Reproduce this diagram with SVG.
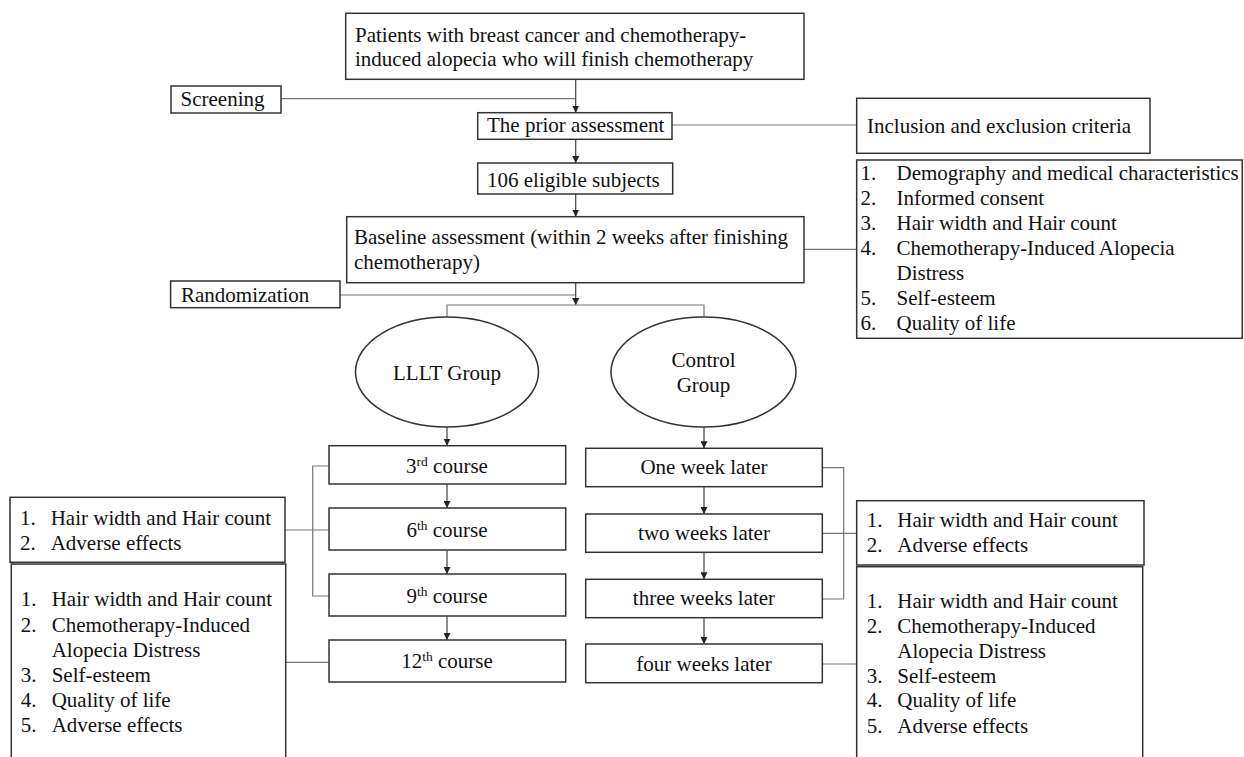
<svg xmlns="http://www.w3.org/2000/svg" width="1244" height="757" viewBox="0 0 1244 757">
<defs>
<marker id="ah" viewBox="0 0 8 8" refX="8" refY="4" markerWidth="7" markerHeight="7" markerUnits="userSpaceOnUse" orient="auto"><path d="M0,0 L8,4 L0,8 z" fill="#222"/></marker>
</defs>
<style>
.box{fill:#fff;stroke:#333;stroke-width:1.5}
.ln{fill:none;stroke:#777;stroke-width:1.2}
.ar{fill:none;stroke:#444;stroke-width:1.2;marker-end:url(#ah)}
text{font-family:"Liberation Serif","Times New Roman",serif;font-size:21px;fill:#111}
.c{text-anchor:middle}
.sup{font-size:13.5px}
</style>
<rect width="1244" height="757" fill="#fff"/>
<g id="connectors">
<path class="ln" d="M281 98.7 H575.7"/>
<path class="ar" d="M575.7 79.3 V112.7"/>
<path class="ar" d="M575.7 139.3 V163"/>
<path class="ar" d="M575.7 194 V216.7"/>
<path class="ln" d="M672 125 H856.7"/>
<path class="ln" d="M804 249.3 H856.7"/>
<path class="ln" d="M340 295 H575.7"/>
<path class="ar" d="M575.7 282.7 V305"/>
<path class="ln" d="M447 317 V305 H704 V317"/>
<path class="ar" d="M447 427 V445.7"/>
<path class="ar" d="M447 484 V508"/>
<path class="ar" d="M447 550 V574"/>
<path class="ar" d="M447 616 V640"/>
<path class="ar" d="M704 426.7 V448.3"/>
<path class="ar" d="M704 486.7 V514"/>
<path class="ar" d="M704 552.3 V579.3"/>
<path class="ar" d="M704 617.7 V644"/>
<path class="ln" d="M329 466 H312.7 V596 H329"/>
<path class="ln" d="M285 530 H329"/>
<path class="ln" d="M285.7 662.3 H329"/>
<path class="ln" d="M822.3 467.7 H843.7 V599 H822.3"/>
<path class="ln" d="M822.3 533.3 H856.7"/>
<path class="ln" d="M822.3 664 H856.7"/>
</g>
<g id="patients">
<rect class="box" x="345.7" y="13.3" width="458.3" height="66"/>
<text x="355" y="41.7">Patients with breast cancer and chemotherapy-</text>
<text x="355" y="65.5">induced alopecia who will finish chemotherapy</text>
</g>
<g id="screening">
<rect class="box" x="171" y="86" width="110" height="27"/>
<text x="180.5" y="106">Screening</text>
</g>
<g id="prior">
<rect class="box" x="477.7" y="112.7" width="194.3" height="26.6"/>
<text x="487" y="132">The prior assessment</text>
</g>
<g id="inclusion">
<rect class="box" x="856.7" y="98.3" width="293.3" height="55"/>
<text x="867" y="133">Inclusion and exclusion criteria</text>
</g>
<g id="eligible">
<rect class="box" x="477.7" y="163" width="195" height="31"/>
<text x="487" y="186.5">106 eligible subjects</text>
</g>
<g id="baseline">
<rect class="box" x="346.7" y="216.7" width="457.3" height="66"/>
<text x="354" y="244">Baseline assessment (within 2 weeks after finishing</text>
<text x="354" y="268.5">chemotherapy)</text>
</g>
<g id="baseline-measures">
<rect class="box" x="856.7" y="160" width="385.5" height="178.3"/>
<text x="860.5" y="180">1.</text><text x="896.5" y="180">Demography and medical characteristics</text>
<text x="860.5" y="205">2.</text><text x="896.5" y="205">Informed consent</text>
<text x="860.5" y="230">3.</text><text x="896.5" y="230">Hair width and Hair count</text>
<text x="860.5" y="255">4.</text><text x="896.5" y="255">Chemotherapy-Induced Alopecia</text>
<text x="896.5" y="280">Distress</text>
<text x="860.5" y="305">5.</text><text x="896.5" y="305">Self-esteem</text>
<text x="860.5" y="329.5">6.</text><text x="896.5" y="329.5">Quality of life</text>
</g>
<g id="randomization">
<rect class="box" x="170.6" y="281" width="169.4" height="26.7"/>
<text x="181" y="301.5">Randomization</text>
</g>
<g id="lllt">
<ellipse class="box" cx="447" cy="372" rx="91.5" ry="55"/>
<text class="c" x="447" y="379.5">LLLT Group</text>
</g>
<g id="control">
<ellipse class="box" cx="703.5" cy="372" rx="92.5" ry="55"/>
<text class="c" x="703.5" y="366.7">Control</text>
<text class="c" x="703.5" y="391.7">Group</text>
</g>
<g id="course3">
<rect class="box" x="329" y="445.7" width="236.7" height="38.3"/>
<text class="c" x="447" y="473">3<tspan class="sup" baseline-shift="super">rd</tspan> course</text>
</g>
<g id="course6">
<rect class="box" x="329" y="508" width="236.7" height="42"/>
<text class="c" x="447" y="536.7">6<tspan class="sup" baseline-shift="super">th</tspan> course</text>
</g>
<g id="course9">
<rect class="box" x="329" y="574" width="236.7" height="42"/>
<text class="c" x="447" y="602.7">9<tspan class="sup" baseline-shift="super">th</tspan> course</text>
</g>
<g id="course12">
<rect class="box" x="329" y="640" width="236.7" height="42"/>
<text class="c" x="447" y="668.3">12<tspan class="sup" baseline-shift="super">th</tspan> course</text>
</g>
<g id="week1">
<rect class="box" x="585.7" y="448.3" width="236.6" height="38.4"/>
<text class="c" x="704" y="474.3">One week later</text>
</g>
<g id="week2">
<rect class="box" x="585.7" y="514" width="236.6" height="38.3"/>
<text class="c" x="704" y="540">two weeks later</text>
</g>
<g id="week3">
<rect class="box" x="585.7" y="579.3" width="236.6" height="38.4"/>
<text class="c" x="704" y="605">three weeks later</text>
</g>
<g id="week4">
<rect class="box" x="585.7" y="644" width="236.6" height="38.7"/>
<text class="c" x="704" y="670.7">four weeks later</text>
</g>
<g id="lllt-interim">
<rect class="box" x="10" y="497.3" width="275" height="65"/>
<text x="20" y="525">1.</text><text x="50.7" y="525">Hair width and Hair count</text>
<text x="20" y="550">2.</text><text x="50.7" y="550">Adverse effects</text>
</g>
<g id="lllt-final">
<rect class="box" x="11.3" y="564" width="274.4" height="210"/>
<text x="20.7" y="606">1.</text><text x="51.7" y="606">Hair width and Hair count</text>
<text x="20.7" y="631.5">2.</text><text x="51.7" y="631.5">Chemotherapy-Induced</text>
<text x="51.7" y="656.5">Alopecia Distress</text>
<text x="20.7" y="681.5">3.</text><text x="51.7" y="681.5">Self-esteem</text>
<text x="20.7" y="706.5">4.</text><text x="51.7" y="706.5">Quality of life</text>
<text x="20.7" y="731.5">5.</text><text x="51.7" y="731.5">Adverse effects</text>
</g>
<g id="control-interim">
<rect class="box" x="856.7" y="500.7" width="287.3" height="64.3"/>
<text x="866.7" y="526.7">1.</text><text x="897.3" y="526.7">Hair width and Hair count</text>
<text x="866.7" y="551.7">2.</text><text x="897.3" y="551.7">Adverse effects</text>
</g>
<g id="control-final">
<rect class="box" x="856.7" y="566.7" width="286" height="210"/>
<text x="866.7" y="607.7">1.</text><text x="897.3" y="607.7">Hair width and Hair count</text>
<text x="866.7" y="633">2.</text><text x="897.3" y="633">Chemotherapy-Induced</text>
<text x="897.3" y="657.7">Alopecia Distress</text>
<text x="866.7" y="682.7">3.</text><text x="897.3" y="682.7">Self-esteem</text>
<text x="866.7" y="707.3">4.</text><text x="897.3" y="707.3">Quality of life</text>
<text x="866.7" y="732.7">5.</text><text x="897.3" y="732.7">Adverse effects</text>
</g>
</svg>
